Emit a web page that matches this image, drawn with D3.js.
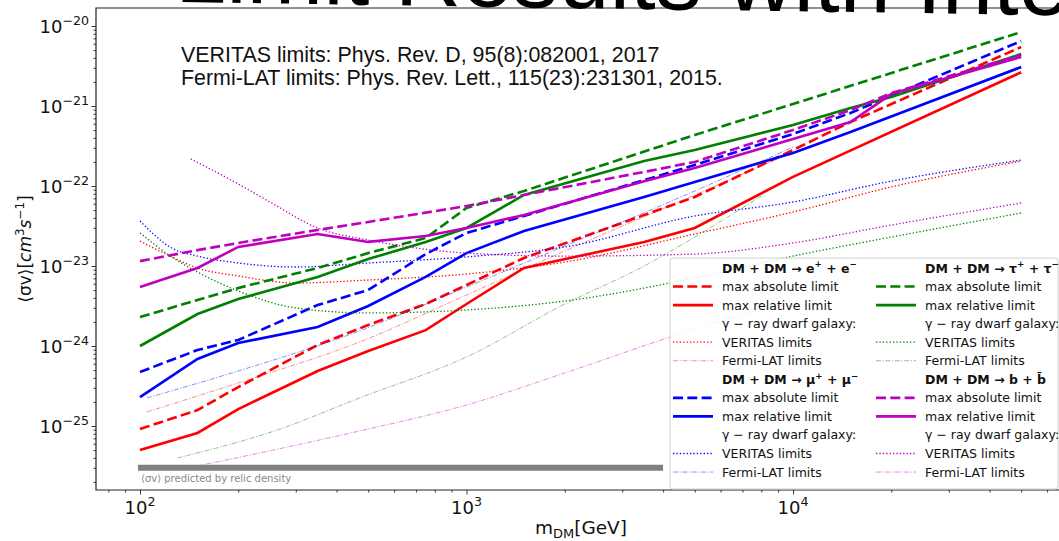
<!DOCTYPE html>
<html>
<head>
<meta charset="utf-8">
<script src="https://cdn.jsdelivr.net/npm/d3@7"></script>
<style>
  body { margin: 0; background: #fff; }
  svg { display: block; font-family: "DejaVu Sans", sans-serif; }
</style>
</head>
<body>
<svg width="1059" height="541"></svg>
<script>
// ---- data: [mass GeV, <sigma v> cm^3/s] ----
let eeAbs = [[100,9.17e-26],[150,1.58e-25],[200,3.07e-25],[350,1.03e-24],[500,1.83e-24],[750,3.35e-24],[1000,5.79e-24],[1500,1.26e-23],[5000,7.29e-23],[10000,2.82e-22],[15000,6.31e-22],[50000,5.46e-21]];
let eeRel = [[100,5.01e-26],[150,8.18e-26],[200,1.63e-25],[350,4.87e-25],[500,8.66e-25],[750,1.58e-24],[1000,3.35e-24],[1500,9.44e-24],[3500,2.0e-23],[5000,2.99e-23],[10000,1.30e-22],[50000,2.64e-21]];
let mumuAbs = [[100,4.73e-25],[150,8.91e-25],[200,1.19e-24],[350,3.25e-24],[500,5.01e-24],[750,1.41e-23],[1000,2.59e-23],[1500,4.22e-23],[5000,1.83e-22],[10000,4.47e-22],[15000,8.18e-22],[50000,6.49e-21]];
let mumuRel = [[100,2.30e-25],[150,6.88e-25],[200,1.09e-24],[350,1.73e-24],[500,3.16e-24],[750,7.29e-24],[1000,1.45e-23],[1500,2.74e-23],[3500,7.29e-23],[5000,1.12e-22],[10000,2.58e-22],[15000,4.73e-22],[50000,3.07e-21]];
let tautauAbs = [[100,2.30e-24],[150,3.76e-24],[200,5.31e-24],[350,9.44e-24],[500,1.45e-23],[750,2.24e-23],[1000,5.31e-23],[1500,8.66e-23],[5000,4.34e-22],[50000,8.41e-21]];
let tautauRel = [[100,1.0e-24],[150,2.51e-24],[200,3.87e-24],[350,7.29e-24],[500,1.22e-23],[750,2.0e-23],[1000,2.99e-23],[1500,7.72e-23],[3500,2.05e-22],[5000,2.82e-22],[10000,5.79e-22],[15000,9.44e-22],[20000,1.30e-21],[50000,4.47e-21]];
let bbAbs = [[100,1.15e-23],[150,1.58e-23],[200,1.94e-23],[350,2.82e-23],[500,3.55e-23],[1000,5.62e-23],[1500,7.72e-23],[3500,1.50e-22],[5000,2.0e-22],[10000,5.01e-22],[15000,8.91e-22],[20000,1.45e-21],[50000,4.34e-21]];
let bbRel = [[100,5.46e-24],[150,9.44e-24],[200,1.73e-23],[350,2.51e-23],[500,2.0e-23],[750,2.37e-23],[1000,2.99e-23],[1500,4.34e-23],[3500,1.15e-22],[5000,1.68e-22],[10000,3.87e-22],[15000,6.31e-22],[20000,1.41e-21],[50000,4.10e-21]];

// VERITAS dwarf galaxy limits
let veritasMass = [100,125,150,200,300,500,1000,2000,5000,10000,20000,50000];
let eeVeritas = [2.05e-23,1.30e-23,9.44e-24,7.50e-24,6.13e-24,6.68e-24,7.94e-24,1.12e-23,2.51e-23,4.73e-23,9.72e-23,2.05e-22];
let mumuVeritas = [3.65e-23,1.68e-23,1.33e-23,1.09e-23,9.72e-24,1.09e-23,1.30e-23,1.73e-23,4.22e-23,6.31e-23,1.15e-22,2.11e-22];
let tautauVeritas = [2.59e-23,1.30e-23,8.41e-24,4.87e-24,2.99e-24,2.59e-24,2.82e-24,3.65e-24,7.08e-24,1.33e-23,2.30e-23,4.60e-23];
let bbVeritasMass = [143,200,250,350,500,700,1000,2000,5000,10000,20000,50000];
let bbVeritas = [2.18e-22,1.06e-22,6.31e-23,2.99e-23,2.11e-23,1.68e-23,1.45e-23,1.33e-23,1.41e-23,1.94e-23,3.25e-23,6.13e-23];

// Fermi-LAT dwarf galaxy limits
let eeFermi = [[105,1.50e-25],[200,3.45e-25],[470,1.12e-24],[1000,4.34e-24],[2000,1.54e-23],[5000,7.72e-23],[10000,2.66e-22]];
let mumuFermi = [[105,2.24e-25],[200,4.87e-25],[470,1.54e-24],[1000,5.46e-24],[2000,1.78e-23],[5000,8.66e-23],[10000,3.07e-22]];
let tautauFermi = [[130,3.98e-26],[263,8.91e-26],[470,2.24e-25],[1000,7.29e-25],[2000,3.35e-24],[3500,1.0e-23],[5000,2.30e-23],[8000,7.50e-23]];
let bbFermi = [[140,2.99e-26],[240,4.73e-26],[470,8.66e-26],[1000,1.83e-25],[2000,4.60e-25],[5000,1.63e-24],[10000,3.76e-24]];

// relic density line
let relicMass = [100, 4000];
let relicValue = 3e-26;

let channelNames = ["e", "mu", "tau", "b"];
let channelColors = ["#ff0000", "#0000ff", "#008000", "#bf00bf"];
let channelParticles = [["e", "+", "e", "\u2212"], ["\u03bc", "+", "\u03bc", "\u2212"], ["\u03c4", "+", "\u03c4", "\u2212"], ["b", "", "b\u0304", ""]];
let legendLabels = ["max absolute limit", "max relative limit", "\u03b3 \u2212 ray dwarf galaxy:", "VERITAS limits", "Fermi-LAT limits"];
let yTickExps = [-25, -24, -23, -22, -21, -20];
let xTickExps = [2, 3, 4];

let titleText = "Limit Results with Interpretation";
let noteLines = ["VERITAS limits: Phys. Rev. D, 95(8):082001, 2017", "Fermi-LAT limits: Phys. Rev. Lett., 115(23):231301, 2015."];

// ---- layout ----
let svg = d3.select("svg");

let x = d3.scaleLog().domain([100, 10000]).range([140, 793]);
x.domain([x.invert(96), x.invert(1064)]).range([96, 1064]);
let y = d3.scaleLog().domain([1e-25, 1e-20]).range([426, 26]);
y.domain([y.invert(490), y.invert(8)]).range([490, 8]);

// helper for mathtext-like pieces
function addParts(textSel, parts, size) {
    let shift = 0;
    parts.forEach(p => {
        if (!p.t) return;
        let target = p.sup ? -0.42 * size : p.sub ? 0.22 * size : 0;
        let ts = textSel.append("tspan").attr("dy", target - shift).text(p.t);
        shift = target;
        if (p.sup || p.sub) ts.style("font-size", (size * 0.7) + "px");
        if (p.it) ts.style("font-style", "italic");
    });
}

let plot = svg.append("g");

// ticks
let yMinor = [];
for (let e = -26; e <= -20; e++) for (let k = 2; k <= 9; k++) {
    let v = k * Math.pow(10, e);
    if (v > y.domain()[0] && v < y.domain()[1]) yMinor.push(v);
}
let xMinor = [];
for (let e = 1; e <= 4; e++) for (let k = 2; k <= 9; k++) {
    let v = k * Math.pow(10, e);
    if (v > x.domain()[0] && v < x.domain()[1]) xMinor.push(v);
}

let yAxisMinor = plot.append("g").attr("transform", "translate(96,0)")
    .call(d3.axisLeft(y).tickValues(yMinor).tickSize(2.5).tickFormat(""));
let yAxisMajor = plot.append("g").attr("transform", "translate(96,0)")
    .call(d3.axisLeft(y).tickValues(yTickExps.map(e => Math.pow(10, e))).tickSize(4.5).tickFormat(""));
let xAxisMinor = plot.append("g").attr("transform", "translate(0,490)")
    .call(d3.axisBottom(x).tickValues(xMinor).tickSize(2.5).tickFormat(""));
let xAxisMajor = plot.append("g").attr("transform", "translate(0,490)")
    .call(d3.axisBottom(x).tickValues(xTickExps.map(e => Math.pow(10, e))).tickSize(4.5).tickFormat(""));
[yAxisMinor, yAxisMajor, xAxisMinor, xAxisMajor].forEach(a => {
    a.select(".domain").remove();
    a.selectAll("line").attr("stroke", "#222").attr("stroke-width", 0.9);
});

// tick labels
yTickExps.forEach(e => {
    let t = plot.append("text")
        .attr("x", 89).attr("y", y(Math.pow(10, e)) + 7)
        .attr("text-anchor", "end")
        .style("font-size", "18px").style("fill", "#111");
    addParts(t, [{ t: "10" }, { t: "\u2212" + Math.abs(e), sup: true }], 18);
});
xTickExps.forEach(e => {
    let t = plot.append("text")
        .attr("x", x(Math.pow(10, e))).attr("y", 514)
        .attr("text-anchor", "middle")
        .style("font-size", "18px").style("fill", "#111");
    addParts(t, [{ t: "10" }, { t: String(e), sup: true }], 18);
});

// axis labels
let yLab = plot.append("text")
    .attr("transform", "translate(31,249) rotate(-90)")
    .attr("text-anchor", "middle")
    .style("font-size", "17px").style("fill", "#111");
addParts(yLab, [{ t: "\u27e8\u03c3v\u27e9[" }, { t: "cm", it: true }, { t: "3", sup: true }, { t: "s", it: true }, { t: "\u22121", sup: true }, { t: "]" }], 17);

let xLab = plot.append("text")
    .attr("x", 581).attr("y", 534)
    .attr("text-anchor", "middle")
    .style("font-size", "18.5px").style("fill", "#111");
addParts(xLab, [{ t: "m" }, { t: "DM", sub: true }, { t: "[GeV]" }], 18.5);

// ---- lines ----
let lineGen = d3.line().x(d => x(d[0])).y(d => y(d[1]));
let curveGen = d3.line().x(d => x(d[0])).y(d => y(d[1])).curve(d3.curveMonotoneX);

let absSeries = [eeAbs, mumuAbs, tautauAbs, bbAbs];
let relSeries = [eeRel, mumuRel, tautauRel, bbRel];
let verSeries = [
    veritasMass.map((m, i) => [m, eeVeritas[i]]),
    veritasMass.map((m, i) => [m, mumuVeritas[i]]),
    veritasMass.map((m, i) => [m, tautauVeritas[i]]),
    bbVeritasMass.map((m, i) => [m, bbVeritas[i]])
];
let fermiSeries = [eeFermi, mumuFermi, tautauFermi, bbFermi];

let styles = {
    abs: { w: 2.6, dash: "10,4.3", op: 1 },
    rel: { w: 2.6, dash: null, op: 1 },
    ver: { w: 1.3, dash: "1.3,2.1", op: 1 },
    fermi: { w: 0.9, dash: "5,1.6,1.2,1.6", op: 0.5 }
};

let lines = plot.append("g");
channelNames.forEach((c, i) => {
    let col = channelColors[i];
    [["abs", absSeries[i], lineGen], ["rel", relSeries[i], lineGen],
     ["ver", verSeries[i], curveGen], ["fermi", fermiSeries[i], curveGen]].forEach(([k, data, gen]) => {
        let st = styles[k];
        lines.append("path")
            .attr("d", gen(data))
            .attr("fill", "none")
            .attr("stroke", col)
            .attr("stroke-width", st.w)
            .attr("stroke-opacity", st.op)
            .attr("stroke-dasharray", st.dash);
    });
});

// relic density band
plot.append("line")
    .attr("x1", x(relicMass[0]) - 2).attr("x2", x(relicMass[1]))
    .attr("y1", y(relicValue)).attr("y2", y(relicValue))
    .attr("stroke", "#808080").attr("stroke-width", 6);
plot.append("text")
    .attr("x", x(relicMass[0]) + 1).attr("y", y(relicValue) + 14)
    .style("font-size", "10px").style("fill", "#888")
    .text("\u27e8\u03c3v\u27e9 predicted by relic density");

// reference notes
noteLines.forEach((s, i) => {
    plot.append("text")
        .attr("x", 181).attr("y", 62 + i * 23)
        .style("font-family", "Liberation Sans, sans-serif")
        .style("font-size", "21.4px").style("fill", "#111")
        .text(s);
});

// spines
plot.append("path")
    .attr("d", "M1064,8H96V490H1064")
    .attr("fill", "none").attr("stroke", "#222").attr("stroke-width", 1.2);

// ---- legend ----
let leg = plot.append("g");
leg.append("rect")
    .attr("x", 670).attr("y", 258).attr("width", 388).attr("height", 231)
    .attr("rx", 3)
    .attr("fill", "#fff").attr("fill-opacity", 0.85)
    .attr("stroke", "#d0d0d0").attr("stroke-width", 1);

let colX = [673, 876];
let rowH = 18.55;
let handleKeys = [null, "abs", "rel", null, "ver", "fermi"];
channelNames.forEach((c, i) => {
    let col = Math.floor(i / 2);
    let block = i % 2;
    let hx = colX[col];
    let tx = hx + 49;
    for (let r = 0; r < 6; r++) {
        let cy = 268 + (block * 6 + r) * rowH;
        let key = handleKeys[r];
        if (key) {
            let st = styles[key];
            leg.append("line")
                .attr("x1", hx).attr("x2", hx + 40)
                .attr("y1", cy).attr("y2", cy)
                .attr("stroke", channelColors[i])
                .attr("stroke-width", st.w)
                .attr("stroke-opacity", st.op)
                .attr("stroke-dasharray", st.dash);
        }
        let t = leg.append("text")
            .attr("x", tx).attr("y", cy + 4.5)
            .style("font-size", "12.5px").style("fill", "#111");
        if (r === 0) {
            let p = channelParticles[i];
            t.style("font-weight", "bold");
            addParts(t, [{ t: "DM + DM \u2192 " + p[0] }, { t: p[1], sup: true }, { t: " + " + p[2] }, { t: p[3], sup: true }], 12.5);
        } else {
            t.text(legendLabels[r - 1]);
        }
    }
});

// slide title peeking in over the top of the figure (slightly tilted)
svg.append("text")
    .attr("transform", "translate(175,2) rotate(0.85)")
    .style("font-family", "Liberation Sans, sans-serif")
    .style("font-size", "92px").style("fill", "#000")
    .text(titleText);
</script>
</body>
</html>
